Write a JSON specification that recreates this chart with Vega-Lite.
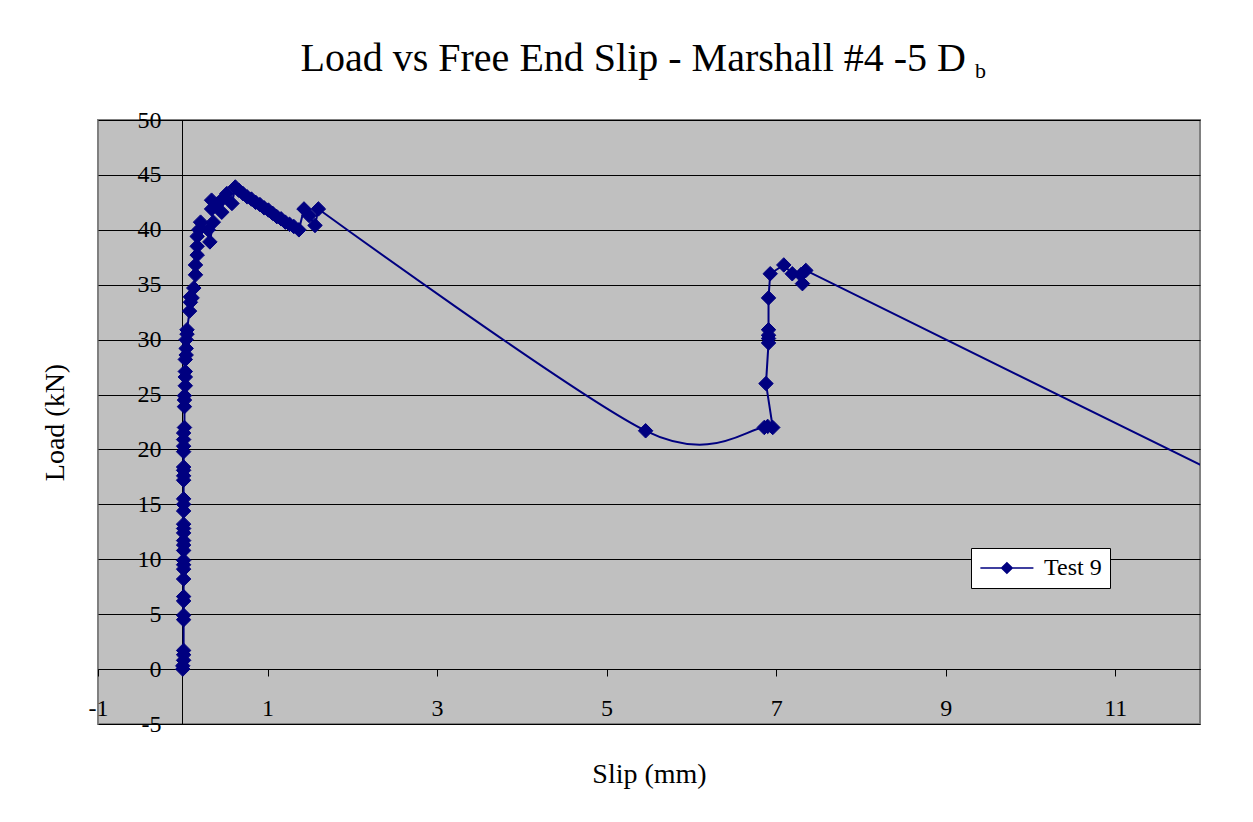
{
  "$schema": "https://vega.github.io/schema/vega-lite/v6.json",
  "width": 1102,
  "height": 604,
  "autosize": "none",
  "padding": {"left": 98, "top": 120, "right": 53, "bottom": 98},
  "background": "white",
  "title": {
    "text": "Load vs Free End Slip - Marshall #4 -5 D\u00a0\u00a0\u200b",
    "subtitle": "b",
    "anchor": "end",
    "frame": "group",
    "dx": -214,
    "offset": 26,
    "font": "Liberation Serif",
    "fontSize": 40,
    "fontWeight": "normal",
    "color": "black",
    "subtitleFont": "Liberation Serif",
    "subtitleFontSize": 22,
    "subtitleColor": "black",
    "subtitlePadding": -18
  },
  "config": {
    "view": {"fill": "#c0c0c0", "stroke": "#808080", "strokeWidth": 2},
    "font": "Liberation Serif"
  },
  "data": {
    "values": [
      {"i": 1, "x": 0.0, "y": 0.0},
      {"i": 2, "x": 0.0, "y": 0.3},
      {"i": 3, "x": 0.01, "y": 0.8},
      {"i": 4, "x": 0.01, "y": 1.3},
      {"i": 5, "x": 0.01, "y": 1.7},
      {"i": 6, "x": 0.01, "y": 4.5},
      {"i": 7, "x": 0.01, "y": 4.9},
      {"i": 8, "x": 0.01, "y": 6.2},
      {"i": 9, "x": 0.01, "y": 6.6},
      {"i": 10, "x": 0.01, "y": 8.2},
      {"i": 11, "x": 0.01, "y": 9.1},
      {"i": 12, "x": 0.01, "y": 9.5},
      {"i": 13, "x": 0.01, "y": 9.9},
      {"i": 14, "x": 0.01, "y": 10.8},
      {"i": 15, "x": 0.01, "y": 11.3},
      {"i": 16, "x": 0.01, "y": 11.7},
      {"i": 17, "x": 0.01, "y": 12.4},
      {"i": 18, "x": 0.01, "y": 12.8},
      {"i": 19, "x": 0.01, "y": 13.2},
      {"i": 20, "x": 0.01, "y": 14.4},
      {"i": 21, "x": 0.01, "y": 15.0},
      {"i": 22, "x": 0.01, "y": 15.5},
      {"i": 23, "x": 0.01, "y": 17.2},
      {"i": 24, "x": 0.01, "y": 17.6},
      {"i": 25, "x": 0.01, "y": 18.1},
      {"i": 26, "x": 0.01, "y": 18.4},
      {"i": 27, "x": 0.01, "y": 19.8},
      {"i": 28, "x": 0.01, "y": 20.3},
      {"i": 29, "x": 0.01, "y": 20.9},
      {"i": 30, "x": 0.01, "y": 21.5},
      {"i": 31, "x": 0.02, "y": 22.0},
      {"i": 32, "x": 0.02, "y": 23.9},
      {"i": 33, "x": 0.02, "y": 24.5},
      {"i": 34, "x": 0.02, "y": 24.9},
      {"i": 35, "x": 0.03, "y": 25.8},
      {"i": 36, "x": 0.03, "y": 26.6},
      {"i": 37, "x": 0.03, "y": 27.1},
      {"i": 38, "x": 0.03, "y": 28.2},
      {"i": 39, "x": 0.04, "y": 28.6},
      {"i": 40, "x": 0.04, "y": 29.2},
      {"i": 41, "x": 0.04, "y": 30.0},
      {"i": 42, "x": 0.05, "y": 30.5},
      {"i": 43, "x": 0.05, "y": 30.9},
      {"i": 44, "x": 0.08, "y": 32.6},
      {"i": 45, "x": 0.09, "y": 33.4},
      {"i": 46, "x": 0.09, "y": 33.9},
      {"i": 47, "x": 0.11, "y": 33.8},
      {"i": 48, "x": 0.13, "y": 34.7},
      {"i": 49, "x": 0.15, "y": 35.9},
      {"i": 50, "x": 0.15, "y": 36.8},
      {"i": 51, "x": 0.17, "y": 37.7},
      {"i": 52, "x": 0.17, "y": 38.5},
      {"i": 53, "x": 0.17, "y": 39.4},
      {"i": 54, "x": 0.19, "y": 40.0},
      {"i": 55, "x": 0.21, "y": 40.7},
      {"i": 56, "x": 0.3, "y": 40.0},
      {"i": 57, "x": 0.32, "y": 38.9},
      {"i": 58, "x": 0.36, "y": 40.7},
      {"i": 59, "x": 0.34, "y": 41.9},
      {"i": 60, "x": 0.34, "y": 42.7},
      {"i": 61, "x": 0.4, "y": 42.3},
      {"i": 62, "x": 0.46, "y": 41.6},
      {"i": 63, "x": 0.48, "y": 42.9},
      {"i": 64, "x": 0.52, "y": 43.3},
      {"i": 65, "x": 0.58, "y": 42.4},
      {"i": 66, "x": 0.62, "y": 43.9},
      {"i": 67, "x": 0.66, "y": 43.6},
      {"i": 68, "x": 0.71, "y": 43.3},
      {"i": 69, "x": 0.76, "y": 43.0},
      {"i": 70, "x": 0.81, "y": 42.8},
      {"i": 71, "x": 0.86, "y": 42.5},
      {"i": 72, "x": 0.91, "y": 42.3},
      {"i": 73, "x": 0.96, "y": 42.0},
      {"i": 74, "x": 1.01, "y": 41.8},
      {"i": 75, "x": 1.06, "y": 41.5},
      {"i": 76, "x": 1.11, "y": 41.2},
      {"i": 77, "x": 1.16, "y": 41.0},
      {"i": 78, "x": 1.21, "y": 40.7},
      {"i": 79, "x": 1.26, "y": 40.5},
      {"i": 80, "x": 1.31, "y": 40.3},
      {"i": 81, "x": 1.37, "y": 40.0},
      {"i": 82, "x": 1.43, "y": 41.9},
      {"i": 83, "x": 1.49, "y": 41.3},
      {"i": 84, "x": 1.56, "y": 40.4},
      {"i": 85, "x": 1.6, "y": 41.9},
      {"i": 86, "x": 5.46, "y": 21.7},
      {"i": 87, "x": 6.86, "y": 22.0},
      {"i": 88, "x": 6.9, "y": 22.1},
      {"i": 89, "x": 6.96, "y": 22.0},
      {"i": 90, "x": 6.88, "y": 26.0},
      {"i": 91, "x": 6.91, "y": 29.7},
      {"i": 92, "x": 6.91, "y": 30.1},
      {"i": 93, "x": 6.91, "y": 30.4},
      {"i": 94, "x": 6.91, "y": 30.9},
      {"i": 95, "x": 6.91, "y": 33.8},
      {"i": 96, "x": 6.93, "y": 36.0},
      {"i": 97, "x": 7.09, "y": 36.8},
      {"i": 98, "x": 7.19, "y": 36.0},
      {"i": 99, "x": 7.29, "y": 35.9},
      {"i": 100, "x": 7.31, "y": 35.1},
      {"i": 101, "x": 7.35, "y": 36.3},
      {"i": 102, "x": 14.0, "y": 11.0}
    ]
  },
  "encoding": {
    "x": {
      "field": "x",
      "type": "quantitative",
      "scale": {"domain": [-1, 12], "nice": false, "zero": false},
      "axis": {
        "orient": "bottom",
        "offset": -55,
        "values": [-1, 1, 3, 5, 7, 9, 11],
        "labelExpr": "replace(datum.label, '\u2212', '-')",
        "labelFlush": false,
        "grid": false,
        "domainColor": "black",
        "domainWidth": 1,
        "tickColor": "black",
        "tickSize": 7,
        "labelFont": "Liberation Serif",
        "labelFontSize": 24,
        "labelColor": "black",
        "labelPadding": 20,
        "title": "Slip (mm)",
        "titleFont": "Liberation Serif",
        "titleFontSize": 28,
        "titleFontWeight": "normal",
        "titleColor": "black",
        "titlePadding": 40
      }
    },
    "y": {
      "field": "y",
      "type": "quantitative",
      "scale": {"domain": [-5, 50], "nice": false, "zero": false},
      "axis": {
        "orient": "left",
        "offset": -84,
        "values": [-5, 0, 5, 10, 15, 20, 25, 30, 35, 40, 45, 50],
        "labelExpr": "replace(datum.label, '\u2212', '-')",
        "labelFlush": false,
        "grid": true,
        "gridColor": "black",
        "gridWidth": 1,
        "gridOpacity": 1,
        "domainColor": "black",
        "domainWidth": 1,
        "tickColor": "black",
        "tickSize": 7,
        "labelFont": "Liberation Serif",
        "labelFontSize": 24,
        "labelColor": "black",
        "labelPadding": 14,
        "title": "Load (kN)",
        "titleFont": "Liberation Serif",
        "titleFontSize": 28,
        "titleFontWeight": "normal",
        "titleColor": "black",
        "titlePadding": 68
      }
    }
  },
  "layer": [
    {
      "transform": [{"filter": "datum.i <= 85"}],
      "mark": {"type": "line", "color": "#000080", "strokeWidth": 2, "clip": true},
      "encoding": {"order": {"field": "i", "type": "quantitative"}}
    },
    {
      "transform": [{"filter": "datum.i >= 85 && datum.i <= 88"}],
      "mark": {
        "type": "line",
        "color": "#000080",
        "strokeWidth": 2,
        "interpolate": "cardinal",
        "tension": 0.1,
        "clip": true
      },
      "encoding": {"order": {"field": "i", "type": "quantitative"}}
    },
    {
      "transform": [{"filter": "datum.i >= 87"}],
      "mark": {"type": "line", "color": "#000080", "strokeWidth": 2, "clip": true},
      "encoding": {"order": {"field": "i", "type": "quantitative"}}
    },
    {
      "mark": {
        "type": "point",
        "shape": "diamond",
        "filled": true,
        "size": 210,
        "opacity": 1,
        "stroke": "#000080",
        "strokeWidth": 1,
        "clip": true
      },
      "encoding": {
        "color": {
          "datum": "Test 9",
          "type": "nominal",
          "scale": {"range": ["#000080"]},
          "legend": {
            "title": null,
            "orient": "none",
            "legendX": 873,
            "legendY": 428,
            "fillColor": "white",
            "strokeColor": "black",
            "padding": 8,
            "symbolType": "M-1,0L4,0M1.5,-0.5L2,0L1.5,0.5L1,0Z",
            "symbolSize": 450,
            "symbolStrokeColor": "#000080",
            "symbolFillColor": "#000080",
            "symbolStrokeWidth": 1.5,
            "labelFont": "Liberation Serif",
            "labelFontSize": 24,
            "labelColor": "black",
            "labelOffset": 41,
            "encode": {
              "symbols": {
                "update": {
                  "fill": {"value": "#000080"},
                  "stroke": {"value": "#000080"},
                  "strokeWidth": {"value": 1.5},
                  "opacity": {"value": 1}
                }
              }
            }
          }
        }
      }
    }
  ]
}
